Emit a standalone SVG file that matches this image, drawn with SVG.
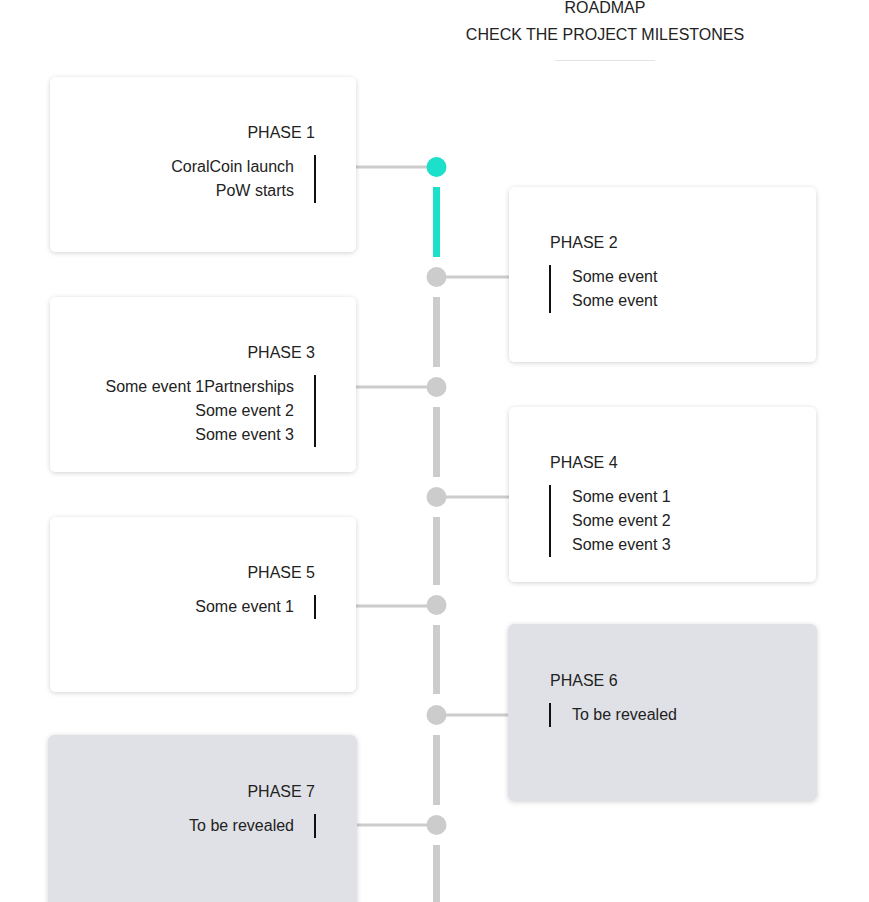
<svg xmlns="http://www.w3.org/2000/svg" width="869" height="902" viewBox="0 0 869 902">
<defs>
<filter id="sh" x="-10%" y="-10%" width="120%" height="125%">
<feDropShadow dx="0" dy="1" stdDeviation="2.5" flood-color="#000" flood-opacity="0.18"/>
</filter>
<style>
text{font-family:"Liberation Sans",Arial,sans-serif;font-size:16px;fill:#222}
.hd{font-size:16px}
.card{fill:#fff;filter:url(#sh)}
.gcard{fill:#e0e1e6;filter:url(#sh)}
.bar{stroke:#111;stroke-width:2}
.conn{stroke:#cccccc;stroke-width:3;fill:none}
.seg{fill:#cccccc}
.dot{fill:#cccccc}
.r{text-anchor:end}
.c{text-anchor:middle}
</style>
</defs>
<rect width="869" height="902" fill="#fff"/>
<g id="header">
<text class="c" x="605" y="13">ROADMAP</text>
<text class="c" x="605" y="40">CHECK THE PROJECT MILESTONES</text>
<line x1="555" y1="60.5" x2="655" y2="60.5" stroke="#e3e3e3" stroke-width="1"/>
</g>
<g id="connectors">
<rect x="433" y="187" width="7" height="70" fill="#1ce0c9"/>
<rect class="seg" x="433" y="297" width="7" height="70"/>
<rect class="seg" x="433" y="407" width="7" height="70"/>
<rect class="seg" x="433" y="517" width="7" height="68"/>
<rect class="seg" x="433" y="625" width="7" height="69"/>
<rect class="seg" x="433" y="735" width="7" height="70"/>
<rect class="seg" x="433" y="845" width="7" height="60"/>
<line class="conn" x1="356" y1="167" x2="430" y2="167"/>
<line class="conn" x1="442" y1="277" x2="509" y2="277"/>
<line class="conn" x1="356" y1="387" x2="430" y2="387"/>
<line class="conn" x1="442" y1="497" x2="509" y2="497"/>
<line class="conn" x1="356" y1="606" x2="430" y2="606"/>
<line class="conn" x1="442" y1="715" x2="508" y2="715"/>
<line class="conn" x1="357" y1="825" x2="430" y2="825"/>
<circle cx="436.5" cy="167" r="10" fill="#1ce0c9"/>
<circle class="dot" cx="436.5" cy="277" r="10"/>
<circle class="dot" cx="436.5" cy="387" r="10"/>
<circle class="dot" cx="436.5" cy="497" r="10"/>
<circle class="dot" cx="436.5" cy="605" r="10"/>
<circle class="dot" cx="436.5" cy="715" r="10"/>
<circle class="dot" cx="436.5" cy="825" r="10"/>
</g>
<g id="phase1">
<rect class="card" x="50" y="77" width="306" height="175" rx="6"/>
<text class="r" x="315" y="138">PHASE 1</text>
<line class="bar" x1="315" y1="155" x2="315" y2="203"/>
<text class="r" x="294" y="172">CoralCoin launch</text>
<text class="r" x="294" y="196">PoW starts</text>
</g>
<g id="phase2">
<rect class="card" x="509" y="187" width="307" height="175" rx="6"/>
<text x="550" y="248">PHASE 2</text>
<line class="bar" x1="550" y1="265" x2="550" y2="313"/>
<text x="572" y="282">Some event</text>
<text x="572" y="306">Some event</text>
</g>
<g id="phase3">
<rect class="card" x="50" y="297" width="306" height="175" rx="6"/>
<text class="r" x="315" y="358">PHASE 3</text>
<line class="bar" x1="315" y1="375" x2="315" y2="447"/>
<text class="r" x="294" y="392">Some event 1Partnerships</text>
<text class="r" x="294" y="416">Some event 2</text>
<text class="r" x="294" y="440">Some event 3</text>
</g>
<g id="phase4">
<rect class="card" x="509" y="407" width="307" height="175" rx="6"/>
<text x="550" y="468">PHASE 4</text>
<line class="bar" x1="550" y1="485" x2="550" y2="557"/>
<text x="572" y="502">Some event 1</text>
<text x="572" y="526">Some event 2</text>
<text x="572" y="550">Some event 3</text>
</g>
<g id="phase5">
<rect class="card" x="50" y="517" width="306" height="175" rx="6"/>
<text class="r" x="315" y="578">PHASE 5</text>
<line class="bar" x1="315" y1="595" x2="315" y2="619"/>
<text class="r" x="294" y="612">Some event 1</text>
</g>
<g id="phase6">
<rect class="gcard" x="508" y="624" width="309" height="177" rx="6"/>
<text x="550" y="686">PHASE 6</text>
<line class="bar" x1="550" y1="703" x2="550" y2="727"/>
<text x="572" y="720">To be revealed</text>
</g>
<g id="phase7">
<rect class="gcard" x="48" y="735" width="309" height="177" rx="6"/>
<text class="r" x="315" y="797">PHASE 7</text>
<line class="bar" x1="315" y1="814" x2="315" y2="838"/>
<text class="r" x="294" y="831">To be revealed</text>
</g>
</svg>
